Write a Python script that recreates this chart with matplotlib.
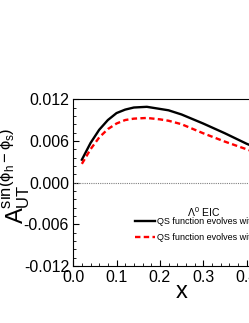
import numpy as np
import matplotlib.pyplot as plt
from matplotlib.ticker import MultipleLocator

plt.rcParams['font.family'] = ['Liberation Sans', 'DejaVu Sans']
plt.rcParams['mathtext.fontset'] = 'custom'
plt.rcParams['mathtext.rm'] = 'Liberation Sans'
plt.rcParams['mathtext.it'] = 'Liberation Sans'

# curves
x_vals = [0.02, 0.04, 0.06, 0.08, 0.10, 0.12, 0.14, 0.17, 0.20, 0.22, 0.25, 0.30, 0.35, 0.40, 0.45, 0.50]
qs_evol_a = [0.0033, 0.0057, 0.0076, 0.0090, 0.0100, 0.0105, 0.0108, 0.0109, 0.0106, 0.0104, 0.0098, 0.0085, 0.0071, 0.0056, 0.0043, 0.0032]
qs_evol_b = [0.0027, 0.0048, 0.0065, 0.0077, 0.0085, 0.0090, 0.0092, 0.0093, 0.0091, 0.0089, 0.0084, 0.0071, 0.0059, 0.0048, 0.0037, 0.0027]
legend_labels = ['QS function evolves with the scale', 'QS function evolves with TMD evolution']
legend_title = r'$\Lambda^0$ EIC'

fig = plt.figure(figsize=(2.49, 3.23), dpi=100)
ax = fig.add_axes([0.294, 0.176, 0.87, 0.517])

ax.plot(x_vals, qs_evol_a, color='black', lw=1.7, label=legend_labels[0])
ax.plot(x_vals, qs_evol_b, color='red', lw=1.7, ls=(0, (2.3, 1.4)), label=legend_labels[1])
ax.axhline(0, color='grey', lw=0.8, ls=(0, (1, 1)))

ax.set_xlim(0, 0.5)
ax.set_ylim(-0.012, 0.012)
ax.set_xticks([0.0, 0.1, 0.2, 0.3, 0.4, 0.5])
ax.set_yticks([-0.012, -0.006, 0.0, 0.006, 0.012])
ax.set_xticklabels(['0.0', '0.1', '0.2', '0.3', '0.4', '0.5'])
ax.set_yticklabels(['-0.012', '-0.006', '0.000', '0.006', '0.012'])
ax.xaxis.set_minor_locator(MultipleLocator(0.02))
ax.yaxis.set_minor_locator(MultipleLocator(0.0012))
ax.tick_params(which='both', direction='in', labelsize=11.5, pad=3)
ax.tick_params(which='major', length=4)
ax.tick_params(which='minor', length=2)

ax.set_xlabel('x', fontsize=17, labelpad=-3)
fig.text(15 / 249, 1 - 176 / 323, r'$\mathrm{A_{UT}^{sin(\phi_h-\phi_s)}}$',
         fontsize=17, rotation=90, ha='center', va='center')

ax.text(0.60, 0.323, legend_title, transform=ax.transAxes, fontsize=7.5,
        ha='center', va='center')
leg = ax.legend(loc='upper left', bbox_to_anchor=(0.286, 0.293), frameon=False,
                fontsize=6.5, handlelength=2.2, handletextpad=0.2,
                labelspacing=0.75, borderpad=0, borderaxespad=0)

fig.savefig('out.png', dpi=100)
